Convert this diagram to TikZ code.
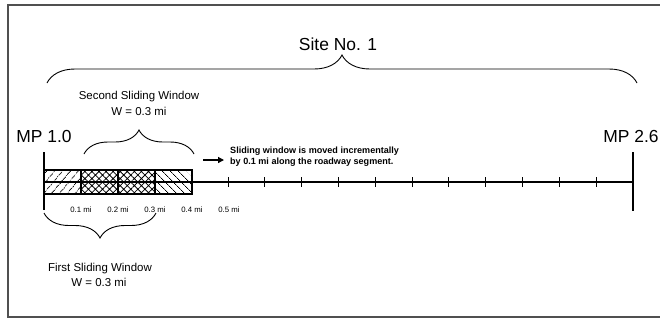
\documentclass[tikz,border=0pt]{standalone}
\usepackage{fontspec}
\setmainfont{Liberation Sans}
\usetikzlibrary{calc,decorations.pathreplacing,patterns.meta,arrows.meta}
\definecolor{framecol}{HTML}{505050}
\begin{document}
\begin{tikzpicture}[x=1bp,y=-1bp,
  brc/.style={decorate,decoration={brace,amplitude=#1},line width=0.9bp},
  lbl/.style={inner sep=0pt,anchor=base},
  big/.style={lbl,font=\fontsize{17.5}{20}\selectfont},
  mid/.style={lbl,font=\fontsize{11.5}{14}\selectfont},
  tick label/.style={lbl,font=\fontsize{7.8}{9}\selectfont},
  note/.style={inner sep=0pt,anchor=base west,font=\bfseries\fontsize{9.1}{10}\selectfont},
  hatchA/.style={pattern={Lines[angle=50,distance=6bp,line width=0.8bp]}},
  hatchB/.style={pattern={Hatch[angle=45,distance=5bp,line width=0.8bp]}},
  hatchC/.style={pattern={Lines[angle=-45,distance=6bp,line width=0.8bp]}}]
\useasboundingbox (0,0) rectangle (660,320);
% frame (open on the right, as cut in the reference)
\draw[framecol,line width=1.3bp] (664,5) -- (8,5) -- (8,317) -- (664,317);

% texts
\node[big] (site) at (338,50.5) {Site No. 1};
\node[big] (mp1) at (44,142) {MP 1.0};
\node[big] (mp2) at (631,142) {MP 2.6};
\node[mid] (sec1) at (139,99.5) {Second Sliding Window};
\node[mid] (sec2) at (139,115) {W = 0.3 mi};
\node[mid] (fir1) at (100,271.5) {First Sliding Window};
\node[mid] (fir2) at (99,286) {W = 0.3 mi};
\node[note] (n1) at (230,153.5) {Sliding window is moved incrementally};
\node[note] (n2) at (230,164) {by 0.1 mi along the roadway segment.};
\foreach \i/\x in {1/81,2/118,3/155,4/192,5/229}
  \node[tick label] (t\i) at (\x,212) {0.\i\ mi};

% hatched window segments
\path[hatchA] (44,170) rectangle (81,194);
\path[hatchB] (81,170) rectangle (155,194);
\path[hatchC] (155,170) rectangle (192,194);

% roadway line and ticks
\coordinate (L) at (44,182);
\coordinate (R) at (633,182);
\draw[line width=1.2bp] (L) -- (R);
\foreach \k in {5,...,15}
  \draw[line width=1bp] ($(L)+(36.8*\k,-5)$) -- ($(L)+(36.8*\k,5)$);

% window box
\draw[line width=2bp] (44,170) rectangle (192,194);
\foreach \x in {81,118,155}
  \draw[line width=1.8bp] (\x,170) -- (\x,194);

% end posts
\draw[line width=2.6bp] (44,152) -- (44,210);
\draw[line width=2.6bp] (633,152) -- (633,211);

% arrow
\coordinate (a1) at (203,160);
\coordinate (a2) at (224,160);
\draw[line width=1.3bp,-{Triangle[length=6bp,width=6bp]}] (a1) -- (a2);

% braces
\coordinate (b1) at (47,83);
\coordinate (b2) at (637,83);
\draw[brc=28bp] (b1) -- (b2);
\coordinate (c1) at (84,154);
\coordinate (c2) at (194,154);
\draw[brc=24bp] (c1) -- (c2);
\coordinate (d1) at (156,213);
\coordinate (d2) at (44,213);
\draw[brc=25bp] (d1) -- (d2);
\end{tikzpicture}
\end{document}
